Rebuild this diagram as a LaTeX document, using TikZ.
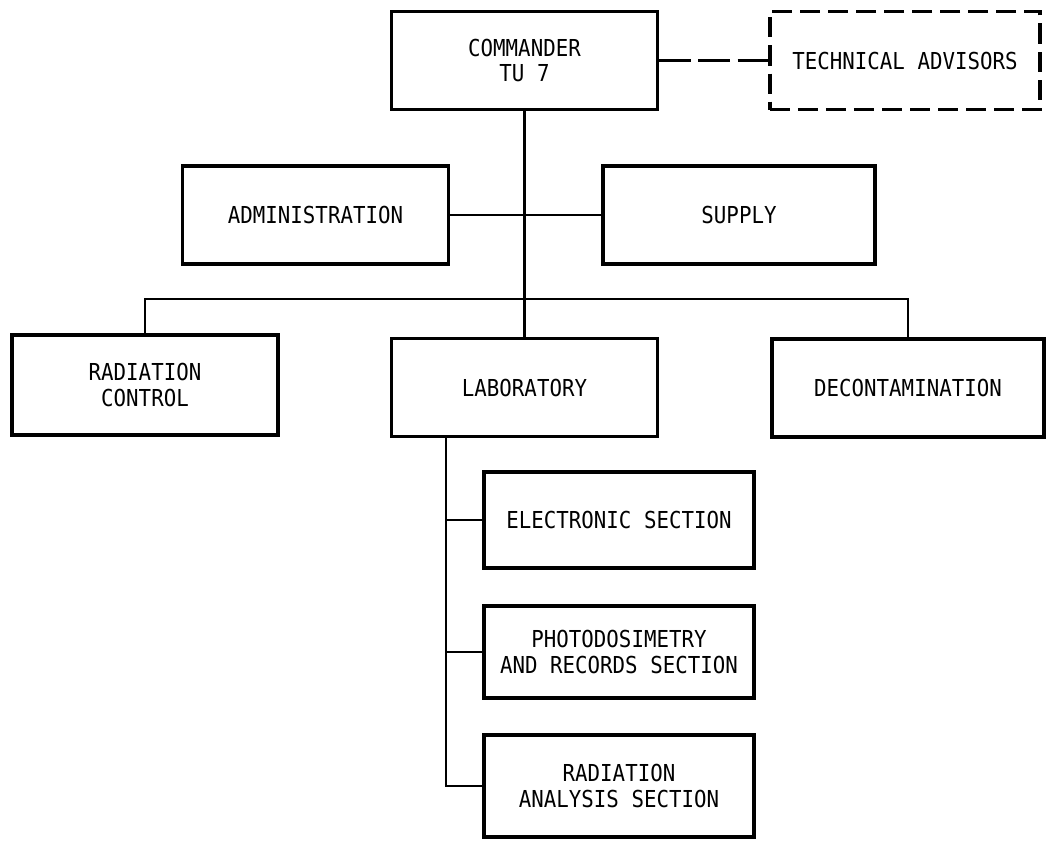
\documentclass[tikz,border=0pt]{standalone}
\usepackage{fontspec}
\newfontfamily\plotfont[FakeStretch=0.89]{DejaVu Sans Mono}
\usepackage{tikz}

\begin{document}
\begin{tikzpicture}[x=0.025cm, y=-0.025cm,
  unit/.style={draw, line width=2.4pt, align=center, minimum width=6.65cm, minimum height=2.45cm,
    font=\plotfont\fontsize{16.6}{18.2}\selectfont},
  link/.style={line width=1.6pt},
  advice/.style={line width=1.6pt, dash pattern=on 0.8cm off 0.18cm}]

\useasboundingbox (0,0) rectangle (1046,843);

\node[unit] (CO) at (524.5,60.5) {COMMANDER\\TU 7};
\node[unit, minimum width=6.75cm, dash pattern=on 0.5cm off 0.2cm] (TA) at (905,60.5) {TECHNICAL ADVISORS};
\node[unit] (AD) at (315.5,215) {ADMINISTRATION};
\node[unit, minimum width=6.8cm] (SU) at (739,215) {SUPPLY};
\node[unit, minimum height=2.5cm] (RC) at (145,385) {RADIATION\\CONTROL};
\node[unit] (LA) at (524.5,387.5) {LABORATORY};
\node[unit, minimum width=6.8cm] (DE) at (908,388) {DECONTAMINATION};
\node[unit, minimum width=6.75cm, minimum height=2.4cm] (ES) at (619,520) {ELECTRONIC SECTION};
\node[unit, minimum width=6.75cm, minimum height=2.3cm] (PR) at (619,652) {PHOTODOSIMETRY\\AND RECORDS SECTION};
\node[unit, minimum width=6.75cm, minimum height=2.55cm] (RA) at (619,786) {RADIATION\\ANALYSIS SECTION};

\coordinate (bus) at (524.5,299);
\coordinate (tap) at ([xshift=1.4cm]LA.south west);

\draw[advice] (CO) -- (TA);
\draw[link] (CO) -- (LA);
\draw[link] (AD) -- (SU);
\draw[link] (RC.north) -- (RC.north |- bus) -- (DE.north |- bus) -- (DE.north);
\draw[link] (tap) |- (RA.west);
\draw[link] (tap |- ES.west) -- (ES.west);
\draw[link] (tap |- PR.west) -- (PR.west);
\end{tikzpicture}
\end{document}
